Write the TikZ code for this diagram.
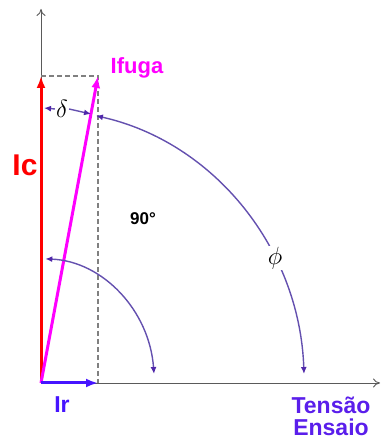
\documentclass[tikz,border=0pt]{standalone}
\usepackage{fontspec}
\setmainfont{Liberation Sans}
\usetikzlibrary{arrows.meta,calc}
\definecolor{arcc}{RGB}{100,80,175}
\definecolor{tipc}{RGB}{80,40,170}
\definecolor{irc}{RGB}{70,20,255}
\definecolor{txtb}{RGB}{90,30,235}
\definecolor{axc}{RGB}{90,90,90}
\definecolor{mag}{RGB}{255,0,255}
\definecolor{rd}{RGB}{255,0,0}
\tikzset{
  axis/.style={draw=axc,line width=0.9pt,-{To[length=7pt,width=9pt]}},
  vec/.style={line width=3pt,-{Latex[length=12pt,width=9pt]}},
  guide/.style={draw=gray,line width=1.4pt,dash pattern=on 5pt off 3pt},
  anglearc/.style={draw=arcc,line width=1.4pt,{Latex[length=7pt,width=6pt,color=tipc]}-{Latex[length=7pt,width=6pt,color=tipc]}},
  small/.style={draw=arcc,line width=1.4pt,-{Latex[length=7pt,width=6pt,color=tipc]}},
  lbl/.style={font=\bfseries,inner sep=0pt}
}
\begin{document}
\begin{tikzpicture}[x=1pt,y=1pt]
\useasboundingbox (0,0) rectangle (380,446);
\coordinate (O) at (41,63);
\coordinate (Ytop) at (41,437);
\coordinate (Xend) at (380,63);
\coordinate (IcE) at (41,370);
\coordinate (IfE) at (98,370);
\coordinate (IrE) at (98,63);
\coordinate (Dtop) at (98,370);
\coordinate (Dbot) at (98,63);
% axes
\draw[axis] (O) -- (Ytop);
\draw[axis] (O) -- (Xend);
% guides
\draw[guide] (IcE) -- (Dtop) -- (Dbot);
% vectors
\draw[vec,rd] (O) -- (IcE);
\draw[vec,mag] (O) -- (IfE);
\draw[vec,irc] (O) -- (IrE);
% 90 deg arc
\draw[anglearc] ($(O)+(113,9)$) arc[start angle=4.5,end angle=88,x radius=113,y radius=125];
% phi arc
\draw[anglearc] ($(O)+(263,9)$) arc[start angle=2,end angle=77.8,x radius=264,y radius=274];
\node[fill=white,inner sep=1pt,font=\fontsize{26}{26}\selectfont] (phi) at (275,188) {$\phi$};
% delta
\node[inner sep=1pt,font=\fontsize{26}{26}\selectfont] (delta) at (62,337) {$\delta$};
\coordinate (dl) at (44,338);
\coordinate (dr) at (91,332);
\draw[small] (delta.west) -- (dl);
\draw[small] (delta.east) -- (dr);
% labels
\node[lbl,mag,font=\bfseries\fontsize{22}{22}\selectfont] (ifuga) at (137,378) {Ifuga};
\node[lbl,rd,font=\bfseries\fontsize{30}{30}\selectfont] (ic) at (25,281) {Ic};
\node[lbl,irc,font=\bfseries\fontsize{23}{23}\selectfont] (ir) at (62,41) {Ir};
\node[lbl,font=\bfseries\fontsize{17}{17}\selectfont] (n90) at (143,227) {90°};
\node[lbl,txtb,font=\bfseries\fontsize{23}{23}\selectfont,align=center] (tens) at (331,30) {Tensão\\[-1pt]Ensaio};
\end{tikzpicture}
\end{document}
